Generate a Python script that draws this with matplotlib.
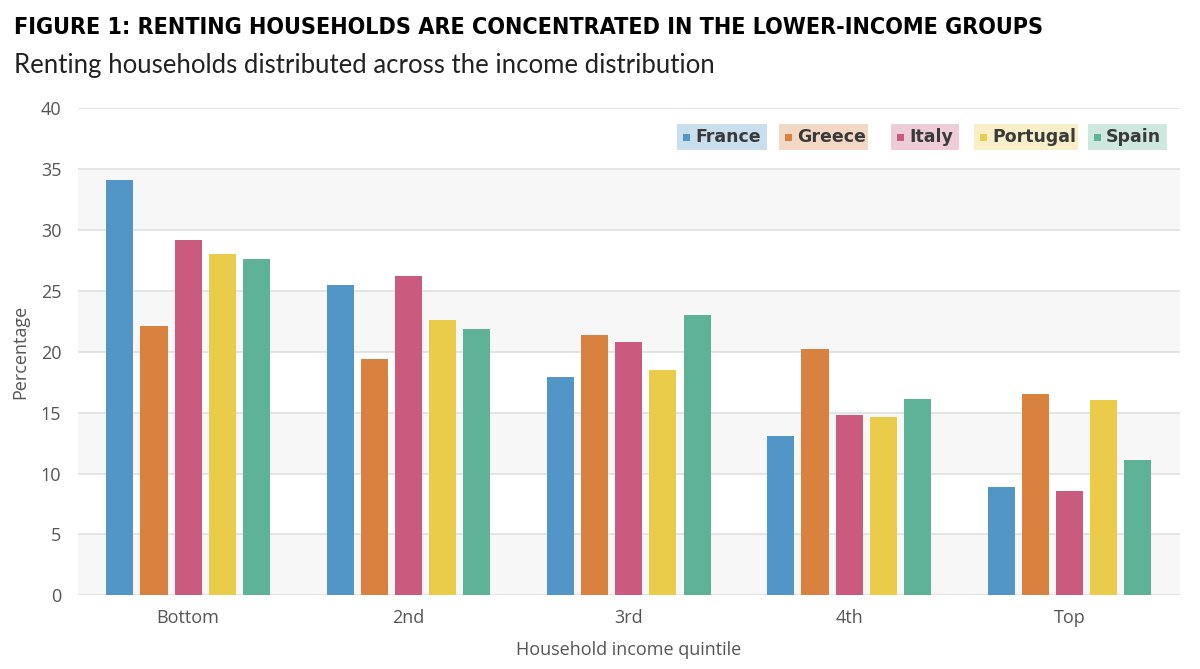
import numpy as np
import matplotlib.pyplot as plt
from matplotlib.patches import Rectangle

quintiles = ["Bottom", "2nd", "3rd", "4th", "Top"]
countries = ["France", "Greece", "Italy", "Portugal", "Spain"]
colors = ["#5296c8", "#d9823f", "#cb5a7f", "#ebcc4a", "#5eb298"]

france = [34.1, 25.5, 17.9, 13.1, 8.9]
greece = [22.1, 19.4, 21.4, 20.2, 16.5]
italy = [29.2, 26.2, 20.8, 14.8, 8.6]
portugal = [28.0, 22.6, 18.5, 14.6, 16.0]
spain = [27.6, 21.9, 23.0, 16.1, 11.1]
series = [france, greece, italy, portugal, spain]

yticks = [0, 5, 10, 15, 20, 25, 30, 35, 40]

TICK_FONT = ["Open Sans", "DejaVu Sans"]
GREY = "#555555"

fig = plt.figure(figsize=(12, 6.69), dpi=100)
ax = fig.add_axes([0.065, 0.11, 0.918, 0.7287])

# alternating background bands
for lo in yticks[:-1:2]:
    ax.axhspan(lo, lo + 5, color="#f7f7f7", zorder=0, lw=0)
for y in yticks:
    ax.axhline(y, color="#e0e0e0", lw=1.2, zorder=1)

x = np.arange(len(quintiles))
width = 0.123
step = 0.155
for i, (vals, c, name) in enumerate(zip(series, colors, countries)):
    ax.bar(x + (i - 2) * step, vals, width, color=c, label=name, zorder=2)

ax.set_xlim(-0.5, 4.5)
ax.set_ylim(0, 40)
ax.set_yticks(yticks)
ax.set_xticks(x)
ax.set_xticklabels(quintiles)
for s in ax.spines.values():
    s.set_visible(False)
ax.tick_params(length=0, labelsize=13, labelcolor=GREY)
ax.tick_params(axis="y", pad=12)
ax.tick_params(axis="x", pad=10)
for lab in ax.get_xticklabels() + ax.get_yticklabels():
    lab.set_family(TICK_FONT)

ax.set_xlabel("Household income quintile", fontsize=13, color=GREY,
              family=TICK_FONT, labelpad=10)
ax.set_ylabel("Percentage", fontsize=13, color=GREY, family=TICK_FONT,
              labelpad=8)

# custom legend boxes
W, H = 1200, 669
box_left = [677, 779, 891, 974, 1088]
box_right = [767, 868, 959, 1078, 1167]
top, bot = 124, 150
for name, c, l, r in zip(countries, colors, box_left, box_right):
    fig.patches.append(Rectangle((l / W, 1 - bot / H), (r - l) / W, (bot - top) / H,
                                 transform=fig.transFigure, facecolor=c, alpha=0.3,
                                 lw=0, zorder=3))
    fig.patches.append(Rectangle(((l + 6) / W, 1 - 141 / H), 7 / W, 7 / H,
                                 transform=fig.transFigure, facecolor=c, lw=0, zorder=4))
    fig.text((l + 18) / W, 1 - 137.5 / H, name, fontsize=12.5, fontweight="bold",
             color="#3a3a3a", family=["DejaVu Sans"],
             va="center", ha="left", zorder=5)

title = fig.text(14 / W, 1 - 28 / H,
                 "FIGURE 1: RENTING HOUSEHOLDS ARE CONCENTRATED IN THE LOWER-INCOME GROUPS",
                 fontsize=17.5, fontweight="bold", fontstretch="condensed",
                 family=["DejaVu Sans"], color="black", va="center", ha="left")
# shrink the title so it spans the same width as in the reference
r = fig.canvas.get_renderer()
tw = title.get_window_extent(r).width
if tw > 1032:
    title.set_fontsize(17.5 * 1032 / tw)

fig.text(14 / W, 1 - 66 / H, "Renting households distributed across the income distribution",
         fontsize=18.5, family=["Lato", "DejaVu Sans"],
         color="#222222", va="center", ha="left")

fig.savefig("out.png", dpi=100, facecolor="white")
